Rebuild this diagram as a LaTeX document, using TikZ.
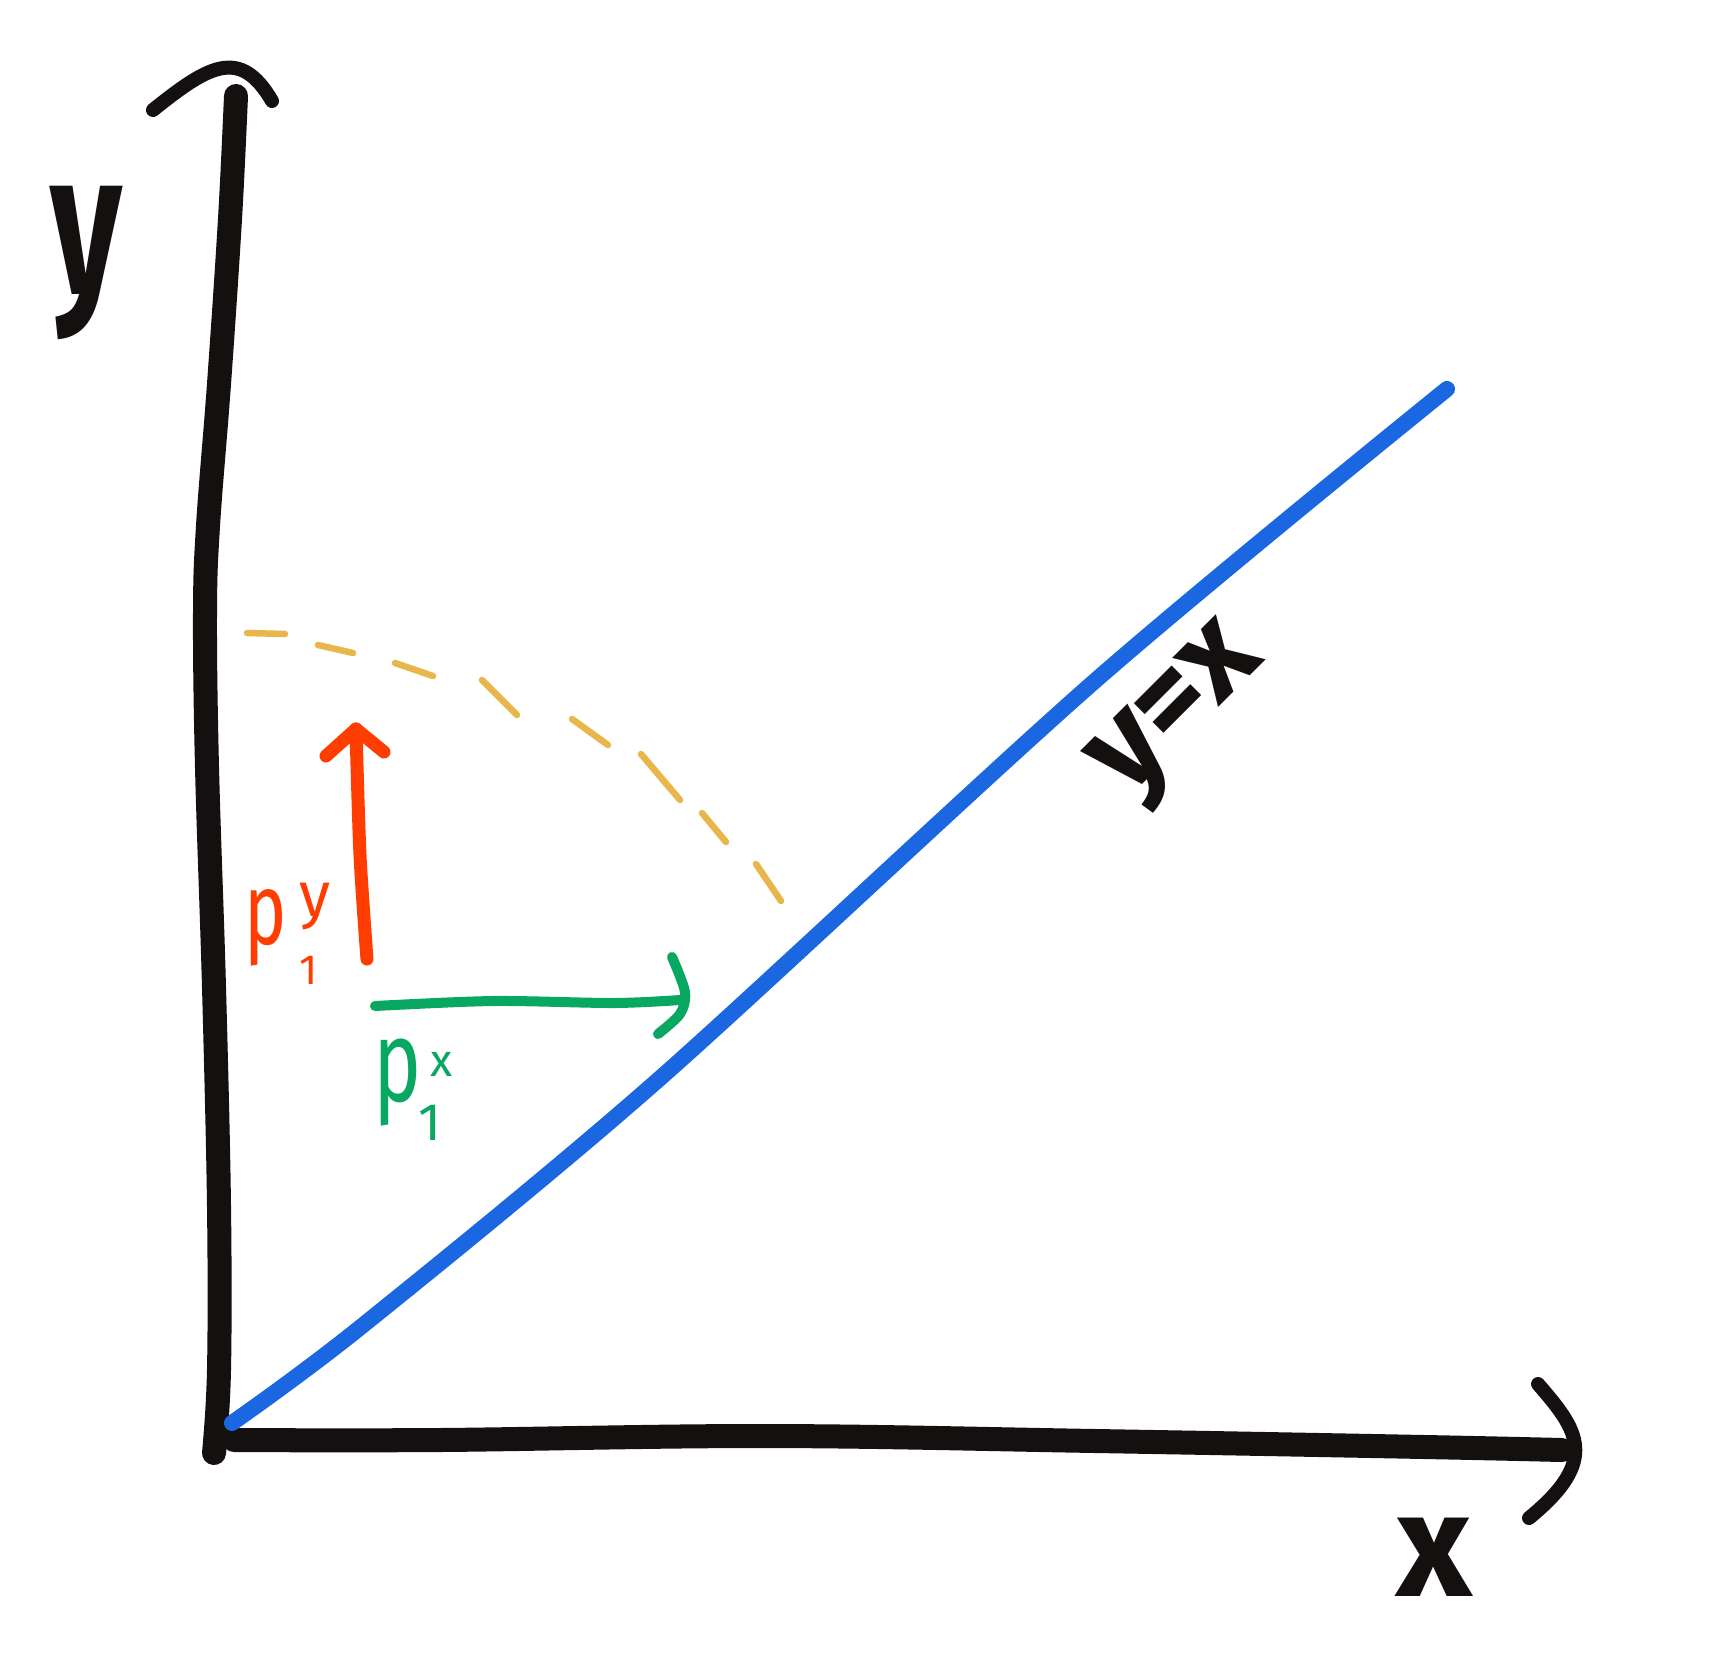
\documentclass[tikz,border=0pt]{standalone}
\usepackage{fontspec}
\setmainfont{Fira Sans}
\setsansfont{Fira Sans}
\definecolor{inkblack}{HTML}{141010}
\definecolor{lineblue}{HTML}{1B67E1}
\definecolor{arrred}{HTML}{FF3D00}
\definecolor{arrgreen}{HTML}{08A862}
\definecolor{arcgold}{HTML}{E8B64A}
\tikzset{
  axisline/.style={draw=inkblack, line width=0.24cm},
  axishead/.style={draw=inkblack, line width=0.14cm},
  diagline/.style={draw=lineblue, line width=0.16cm},
  redarrow/.style={draw=arrred, line width=0.13cm},
  greenarrow/.style={draw=arrgreen, line width=0.1cm},
  arcdash/.style={draw=arcgold, line width=0.065cm},
  biglabel/.style={text=inkblack, inner sep=0pt, font=\bfseries},
  redtext/.style={text=arrred, inner sep=0pt},
  greentext/.style={text=arrgreen, inner sep=0pt},
}
\begin{document}
\begin{tikzpicture}[x=0.01cm, y=-0.01cm, line cap=round, line join=round]
\useasboundingbox[fill=white] (0,0) rectangle (1719,1676);

% named points
\coordinate (ytop) at (236,96);
\coordinate (origin) at (214,1453);
\coordinate (xstart) at (234,1440);
\coordinate (xend) at (1562,1450);

% y axis
\draw[axisline] plot[smooth, tension=0.6] coordinates {(ytop) (230,219) (219,384) (208,526) (205,614) (207,767) (214,987) (219,1206) (219,1370) (origin)};
\draw[axishead] (153,110) .. controls (208,66) and (240,46) .. (272,101);

% x axis
\draw[axisline] plot[smooth, tension=0.6] coordinates {(xstart) (439,1440) (767,1436) (1096,1441) (1425,1447) (xend)};
\draw[axishead] (1538,1384) .. controls (1578,1430) and (1600,1460) .. (1529,1518);

% axis labels
\node[biglabel, font=\fontsize{58}{60}\selectfont\bfseries, xscale=0.68] (ylab) at (86,263) {y};
\node[biglabel, font=\fontsize{42}{44}\selectfont\bfseries] (xlab) at (1434,1557) {x};

% diagonal y = x
\coordinate (dstart) at (232,1423);
\coordinate (dend) at (1447,389);
\draw[diagline] plot[smooth, tension=0.5] coordinates {(dstart) (362,1326) (658,1080) (1096,680) (dend)};
\node[biglabel, font=\fontsize{36}{40}\selectfont\bfseries, rotate=45] (diaglab) at (1183,716) {y=x};

% dashed arc
\draw[arcdash] (247,633) -- (285,634);
\draw[arcdash] (318,645) -- (353,653);
\draw[arcdash] (395,663) -- (433,676);
\draw[arcdash] (482,680) -- (517,715);
\draw[arcdash] (572,719) -- (608,745);
\draw[arcdash] (641,754) -- (680,800);
\draw[arcdash] (702,813) -- (726,842);
\draw[arcdash] (756,864) -- (781,901);

% red arrow p_1^y
\coordinate (rbot) at (367,959);
\coordinate (rtop) at (356,729);
\draw[redarrow] plot[smooth] coordinates {(rbot) (360,855) (rtop)};
\draw[redarrow] (326,756) -- (rtop) -- (384,752);
\node[redtext, font=\fontsize{29}{30}\selectfont, xscale=0.7] (rp) at (266,928) {p};
\node[redtext, font=\fontsize{18}{20}\selectfont] (rsup) at (315,907) {y};
\node[redtext, font=\fontsize{12}{14}\selectfont] (rsub) at (309,970) {1};

% green arrow p_1^x
\coordinate (gstart) at (375,1006);
\coordinate (gend) at (680,1000);
\draw[greenarrow] plot[smooth] coordinates {(gstart) (493,1001) (614,1003) (gend)};
\draw[greenarrow] plot[smooth] coordinates {(672,957) (685,992) (680,1014) (658,1034)};
\node[greentext, font=\fontsize{33}{35}\selectfont, xscale=0.7] (gp) at (398,1083) {p};
\node[greentext, font=\fontsize{13}{15}\selectfont] (gsup) at (442,1064) {x};
\node[greentext, font=\fontsize{15}{17}\selectfont] (gsub) at (430,1123) {1};
\end{tikzpicture}
\end{document}
